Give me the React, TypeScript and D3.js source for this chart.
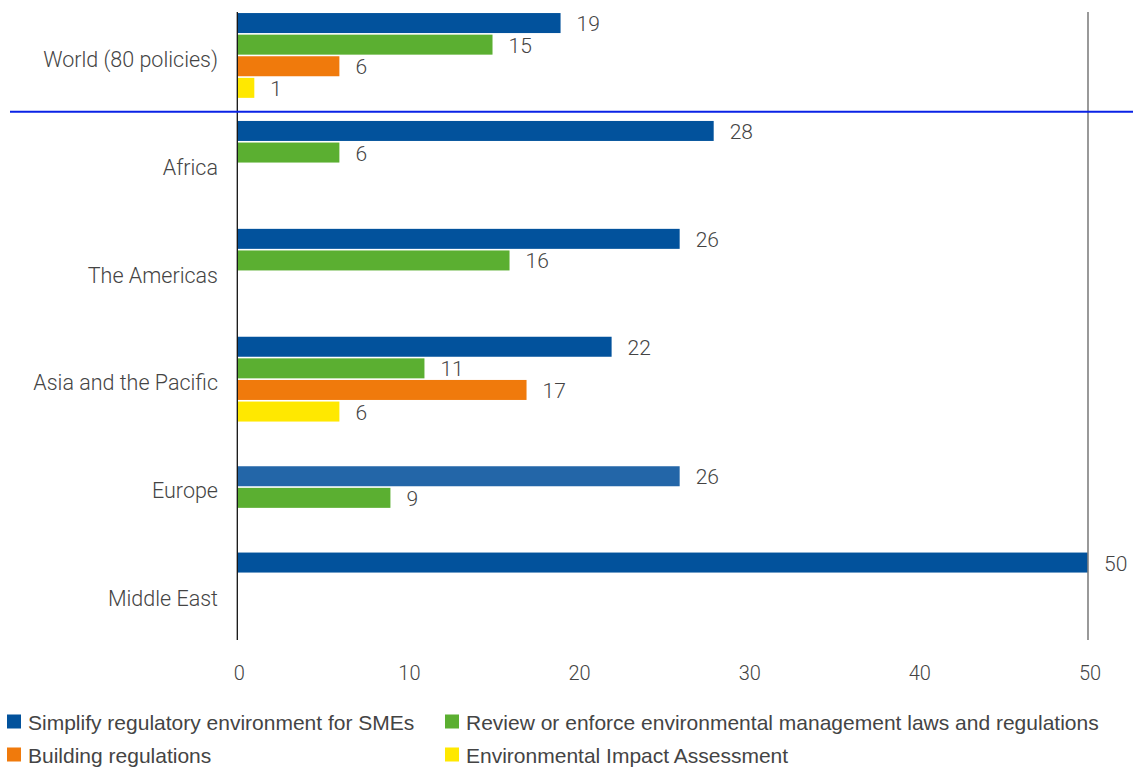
import React from "react";
import * as d3 from "d3";

const categories = [
  "World (80 policies)",
  "Africa",
  "The Americas",
  "Asia and the Pacific",
  "Europe",
  "Middle East",
];

const seriesNames = [
  "Simplify regulatory environment for SMEs",
  "Review or enforce environmental management laws and regulations",
  "Building regulations",
  "Environmental Impact Assessment",
];
const seriesColors = ["#02529C", "#5BAF31", "#F07A0C", "#FFE800"];

const simplifyValues = [19, 28, 26, 22, 26, 50];
const reviewValues = [15, 6, 16, 11, 9, null];
const buildingValues = [6, null, null, 17, null, null];
const eiaValues = [1, null, null, 6, null, null];
const seriesValues = [simplifyValues, reviewValues, buildingValues, eiaValues];

// Europe's bars sit one slot lower, and its first bar uses a lighter blue
const slotShift = [0, 0, 0, 0, 1, 0];
const simplifyShade = [null, null, null, null, "#2366A8", null];

const xTicks = [0, 10, 20, 30, 40, 50];

const W = 1133;
const H = 767;
const TXT = "#444444";
const FONT = "Roboto, sans-serif";

export default function App() {
  const x = d3.scaleLinear().domain([0, 50]).range([237.3, 1088]);
  const y = d3.scaleBand<string>().domain(categories).range([2.3, 649.7]);
  const slot = d3
    .scaleBand<number>()
    .domain([0, 1, 2, 3])
    .range([10.75, 10.75 + 86.4]);
  const barH = slot.bandwidth() - 1.6;

  const bars: any[] = [];
  categories.forEach((c, ci) => {
    seriesValues.forEach((vals, si) => {
      const v = vals[ci];
      if (v == null) return;
      const top = (y(c) as number) + (slot(si + slotShift[ci]) as number);
      const color = si === 0 && simplifyShade[ci] ? simplifyShade[ci] : seriesColors[si];
      bars.push({ key: `${ci}-${si}`, v, top, color });
    });
  });

  const sepY = (y(categories[1]) as number) + 1.5;

  return (
    <svg
      width={W}
      height={H}
      style={{ position: "absolute", left: 0, top: 0, background: "#fff" }}
    >
      {/* category labels */}
      {categories.map((c) => (
        <text
          key={c}
          x={218}
          y={(y(c) as number) + y.bandwidth() / 2 + 3}
          textAnchor="end"
          dominantBaseline="central"
          fontFamily={FONT}
          fontWeight={300}
          fontSize={21.5}
          fill={TXT}
        >
          {c}
        </text>
      ))}

      {/* bars */}
      {bars.map((b) => (
        <g key={b.key}>
          <rect x={x(0)} y={b.top} width={x(b.v) - x(0)} height={barH} fill={b.color} />
          <text
            x={x(b.v) + 16}
            y={b.top + barH / 2 + 1}
            dominantBaseline="central"
            fontFamily={FONT}
            fontWeight={300}
            fontSize={21}
            fill={TXT}
          >
            {b.v}
          </text>
        </g>
      ))}

      {/* axis lines */}
      <line x1={x(0)} x2={x(0)} y1={12} y2={640} stroke="#111" strokeWidth={1.3} />
      <line x1={x(50)} x2={x(50)} y1={12} y2={640} stroke="#808080" strokeWidth={1.6} />

      {/* separator */}
      <line x1={10} x2={W} y1={sepY} y2={sepY} stroke="#0A22E6" strokeWidth={2} />

      {/* x tick labels */}
      {xTicks.map((t) => (
        <text
          key={t}
          x={x(t) + 2}
          y={673}
          textAnchor="middle"
          dominantBaseline="central"
          fontFamily={FONT}
          fontWeight={300}
          fontSize={20}
          fill={TXT}
        >
          {t}
        </text>
      ))}

      {/* legend */}
      {seriesNames.map((n, i) => {
        const col = i % 2;
        const row = Math.floor(i / 2);
        const lx = col === 0 ? 7 : 445;
        const ly = row === 0 ? 722 : 755;
        return (
          <g key={n}>
            <rect x={lx} y={ly - 7.5} width={14} height={14} fill={seriesColors[i]} />
            <text
              x={lx + 21}
              y={ly}
              dominantBaseline="central"
              fontFamily="'Liberation Sans', Arial, sans-serif"
              fontSize={21}
              fill={TXT}
            >
              {n}
            </text>
          </g>
        );
      })}
    </svg>
  );
}
